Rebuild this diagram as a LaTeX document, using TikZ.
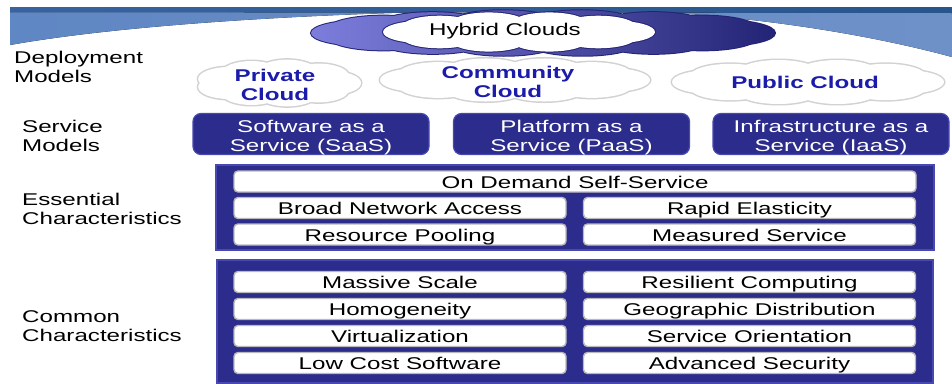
\documentclass[tikz,border=0pt]{standalone}
\usepackage{fontspec}
\usetikzlibrary{calc}
\newfontfamily\slidefont[FakeStretch=1.42]{Liberation Sans}
\definecolor{panelblue}{RGB}{44,44,140}
\definecolor{panelrim}{RGB}{72,72,178}
\definecolor{cloudtext}{RGB}{28,28,170}
\definecolor{hybridL}{RGB}{125,125,220}
\definecolor{hybridR}{RGB}{36,36,118}
\definecolor{bandL}{RGB}{95,135,195}
\definecolor{bandM}{RGB}{185,205,232}
\definecolor{bandR}{RGB}{110,145,200}
\definecolor{stripL}{RGB}{55,100,160}
\definecolor{stripM}{RGB}{150,180,220}
\definecolor{stripR}{RGB}{40,85,140}

\begin{document}
\begin{tikzpicture}[x=1pt,y=-1pt,
  every node/.style={font=\slidefont\fontsize{17}{19}\selectfont, inner sep=0pt},
  lab/.style={anchor=west, align=left},
  svcbox/.style={draw=panelrim, line width=1.2pt, fill=panelblue, rounded corners=8pt,
    minimum width=236pt, minimum height=41pt},
  svctext/.style={text=white, align=center},
  panel/.style={draw=panelrim, line width=1.2pt, fill=panelblue},
  bar/.style={draw=gray!55, line width=1.4pt, fill=white, rounded corners=4pt,
    minimum height=21pt, text height=16.5pt, text depth=3pt},
  halfbar/.style={bar, minimum width=332pt},
  fluffy/.style={fill=white, preaction={draw=gray!35, line width=3pt}},
  cloudname/.style={font=\slidefont\bfseries\fontsize{17}{19}\selectfont, text=cloudtext, align=center}]

\useasboundingbox (0,0) rectangle (952,383);

% banner at the top
\fill[left color=bandL, middle color=bandM, right color=bandR]
  (10,7) -- (952,7) -- (952,57) .. controls (860,32) and (730,12) .. (600,10)
  .. controls (400,9) and (150,20) .. (10,45) -- cycle;
\fill[left color=stripL, middle color=stripM, right color=stripR]
  (10,7) -- (952,7) -- (952,13) -- (10,12) -- cycle;

% deployment models
\shade[left color=hybridL, right color=hybridR, preaction={draw=hybridR, line width=2pt}]
  (543,33) ellipse (200 and 16)
  foreach \a in {0,25.7,...,340} { ($(543,33)+(\a:177 and 10)$) ellipse (55 and 13) };
\fill[white, preaction={draw=hybridR, line width=2pt}]
  (519,32) ellipse (100 and 12)
  foreach \a in {0,36,...,330} { ($(519,32)+(\a:98 and 9)$) ellipse (38 and 11) };
\node (hybridtxt) at (505,31) {Hybrid Clouds};

\fill[fluffy] (278,83) ellipse (55 and 13)
  foreach \a in {0,40,...,330} { ($(278,83)+(\a:53 and 11.5)$) ellipse (30 and 12) };
\fill[fluffy] (515,80) ellipse (95 and 12)
  foreach \a in {0,36,...,330} { ($(515,80)+(\a:95 and 10)$) ellipse (40 and 12) };
\fill[fluffy] (808,82) ellipse (95 and 12)
  foreach \a in {0,36,...,330} { ($(808,82)+(\a:96 and 10.5)$) ellipse (40 and 12) };
\node[cloudname] (privatetxt) at (275,85) {Private\\Cloud};
\node[cloudname] (communitytxt) at (508,82) {Community\\Cloud};
\node[cloudname] (publictxt) at (805,82) {Public Cloud};

% service models
\node[svcbox] (saas) at (311,134) {};
\node[svcbox] (paas) at (571.5,134) {};
\node[svcbox] (iaas) at (831,134) {};
\node[svctext] (saastxt) at (311,138) {Software as a\\Service (SaaS)};
\node[svctext] (paastxt) at (571.5,138) {Platform as a\\Service (PaaS)};
\node[svctext] (iaastxt) at (831,138) {Infrastructure as a\\Service (IaaS)};

% essential characteristics
\node[panel, minimum width=718pt, minimum height=85pt] (essential) at (575,207.5) {};
\node[bar, minimum width=682pt] (ess0) at (575,181.5) {On Demand Self-Service};
\foreach \txtl/\txtr [count=\i] in {Broad Network Access/Rapid Elasticity,
    Resource Pooling/Measured Service}{
  \node[halfbar] (essl\i) at (400,181.5+\i*26.5) {\txtl};
  \node[halfbar] (essr\i) at (749.5,181.5+\i*26.5) {\txtr};
}

% common characteristics
\node[panel, minimum width=716pt, minimum height=123pt] (common) at (575,321.5) {};
\foreach \txtl/\txtr [count=\i] in {Massive Scale/Resilient Computing,
    Homogeneity/Geographic Distribution, Virtualization/Service Orientation,
    Low Cost Software/Advanced Security}{
  \node[halfbar] (coml\i) at (400,255+\i*27) {\txtl};
  \node[halfbar] (comr\i) at (749.5,255+\i*27) {\txtr};
}

% row labels
\node[lab] (deploylab) at (14,67) {Deployment\\Models};
\node[lab] (servicelab) at (22,136) {Service\\Models};
\node[lab] (essentiallab) at (22,209) {Essential\\Characteristics};
\node[lab] (commonlab) at (22,326) {Common\\Characteristics};

\end{tikzpicture}
\end{document}
